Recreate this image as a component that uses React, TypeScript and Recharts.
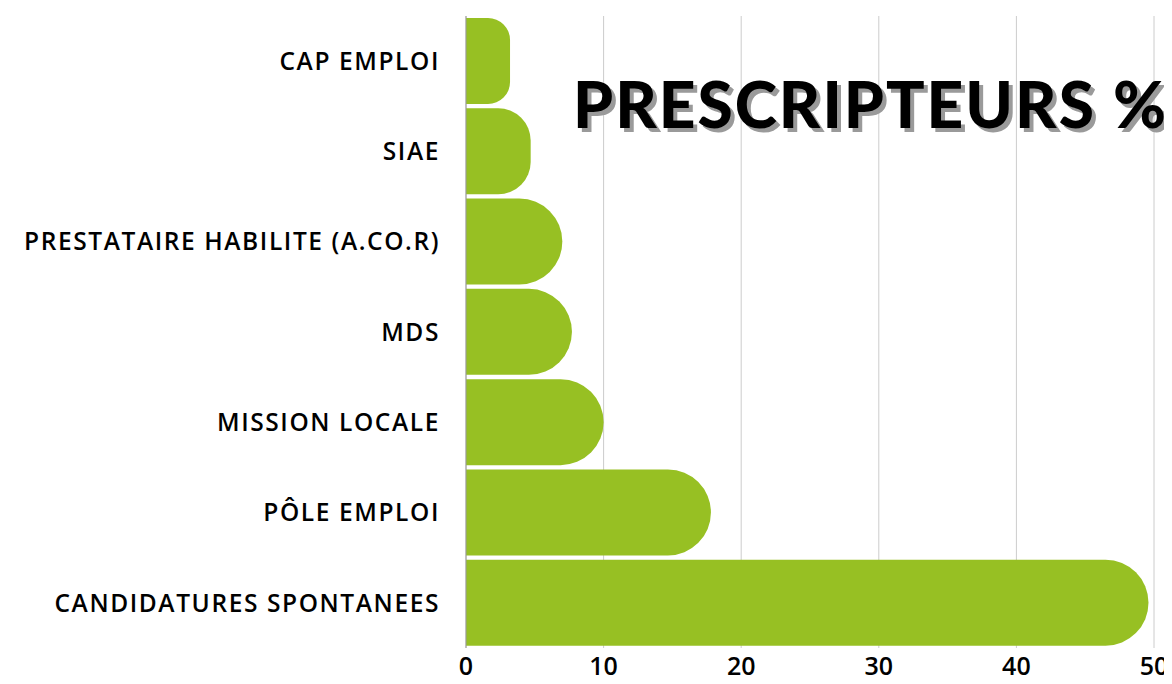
import { BarChart, Bar, XAxis, YAxis, CartesianGrid } from "recharts";

const categories = [
  "CAP EMPLOI",
  "SIAE",
  "PRESTATAIRE HABILITE (A.CO.R)",
  "MDS",
  "MISSION LOCALE",
  "PÔLE EMPLOI",
  "CANDIDATURES SPONTANEES",
];
const percents = [3.2, 4.7, 7.0, 7.7, 10.0, 17.8, 49.6];
const xTicks = [0, 10, 20, 30, 40, 50];

const data = categories.map((name, i) => ({ name, value: percents[i] }));

export default function App() {
  return (
    <div style={{ position: "relative", width: 1172, height: 684, margin: -8, background: "#fff" }}>
      <BarChart
        width={1172}
        height={684}
        data={data}
        layout="vertical"
        margin={{ top: 16, right: 18, bottom: 0, left: 0 }}
        barCategoryGap={2}
      >
        <CartesianGrid horizontal={false} stroke="#cccccc" />
        <XAxis
          type="number"
          domain={[0, 50]}
          ticks={xTicks}
          axisLine={false}
          tickLine={false}
          height={36}
          tickMargin={3}
          tick={{ fill: "#000", fontSize: 25, fontFamily: "Open Sans", fontWeight: 600 }}
        />
        <YAxis
          type="category"
          dataKey="name"
          width={466}
          axisLine={{ stroke: "#999" }}
          tickLine={false}
          tickMargin={20}
          tick={{ fill: "#000", fontSize: 24.5, fontFamily: "Open Sans", fontWeight: 600, letterSpacing: 1.6 }}
        />
        <Bar dataKey="value" fill="#97c023" radius={[0, 43, 43, 0]} isAnimationActive={false} />
      </BarChart>
      <div
        style={{
          position: "absolute",
          left: 573,
          top: 72,
          fontFamily: "Lato",
          fontWeight: 900,
          fontSize: 64,
          letterSpacing: 2,
          color: "#000",
          lineHeight: 1,
          textShadow: "4px 4px 0 #9a9a9a",
          whiteSpace: "nowrap",
        }}
      >
        PRESCRIPTEURS %
      </div>
    </div>
  );
}
